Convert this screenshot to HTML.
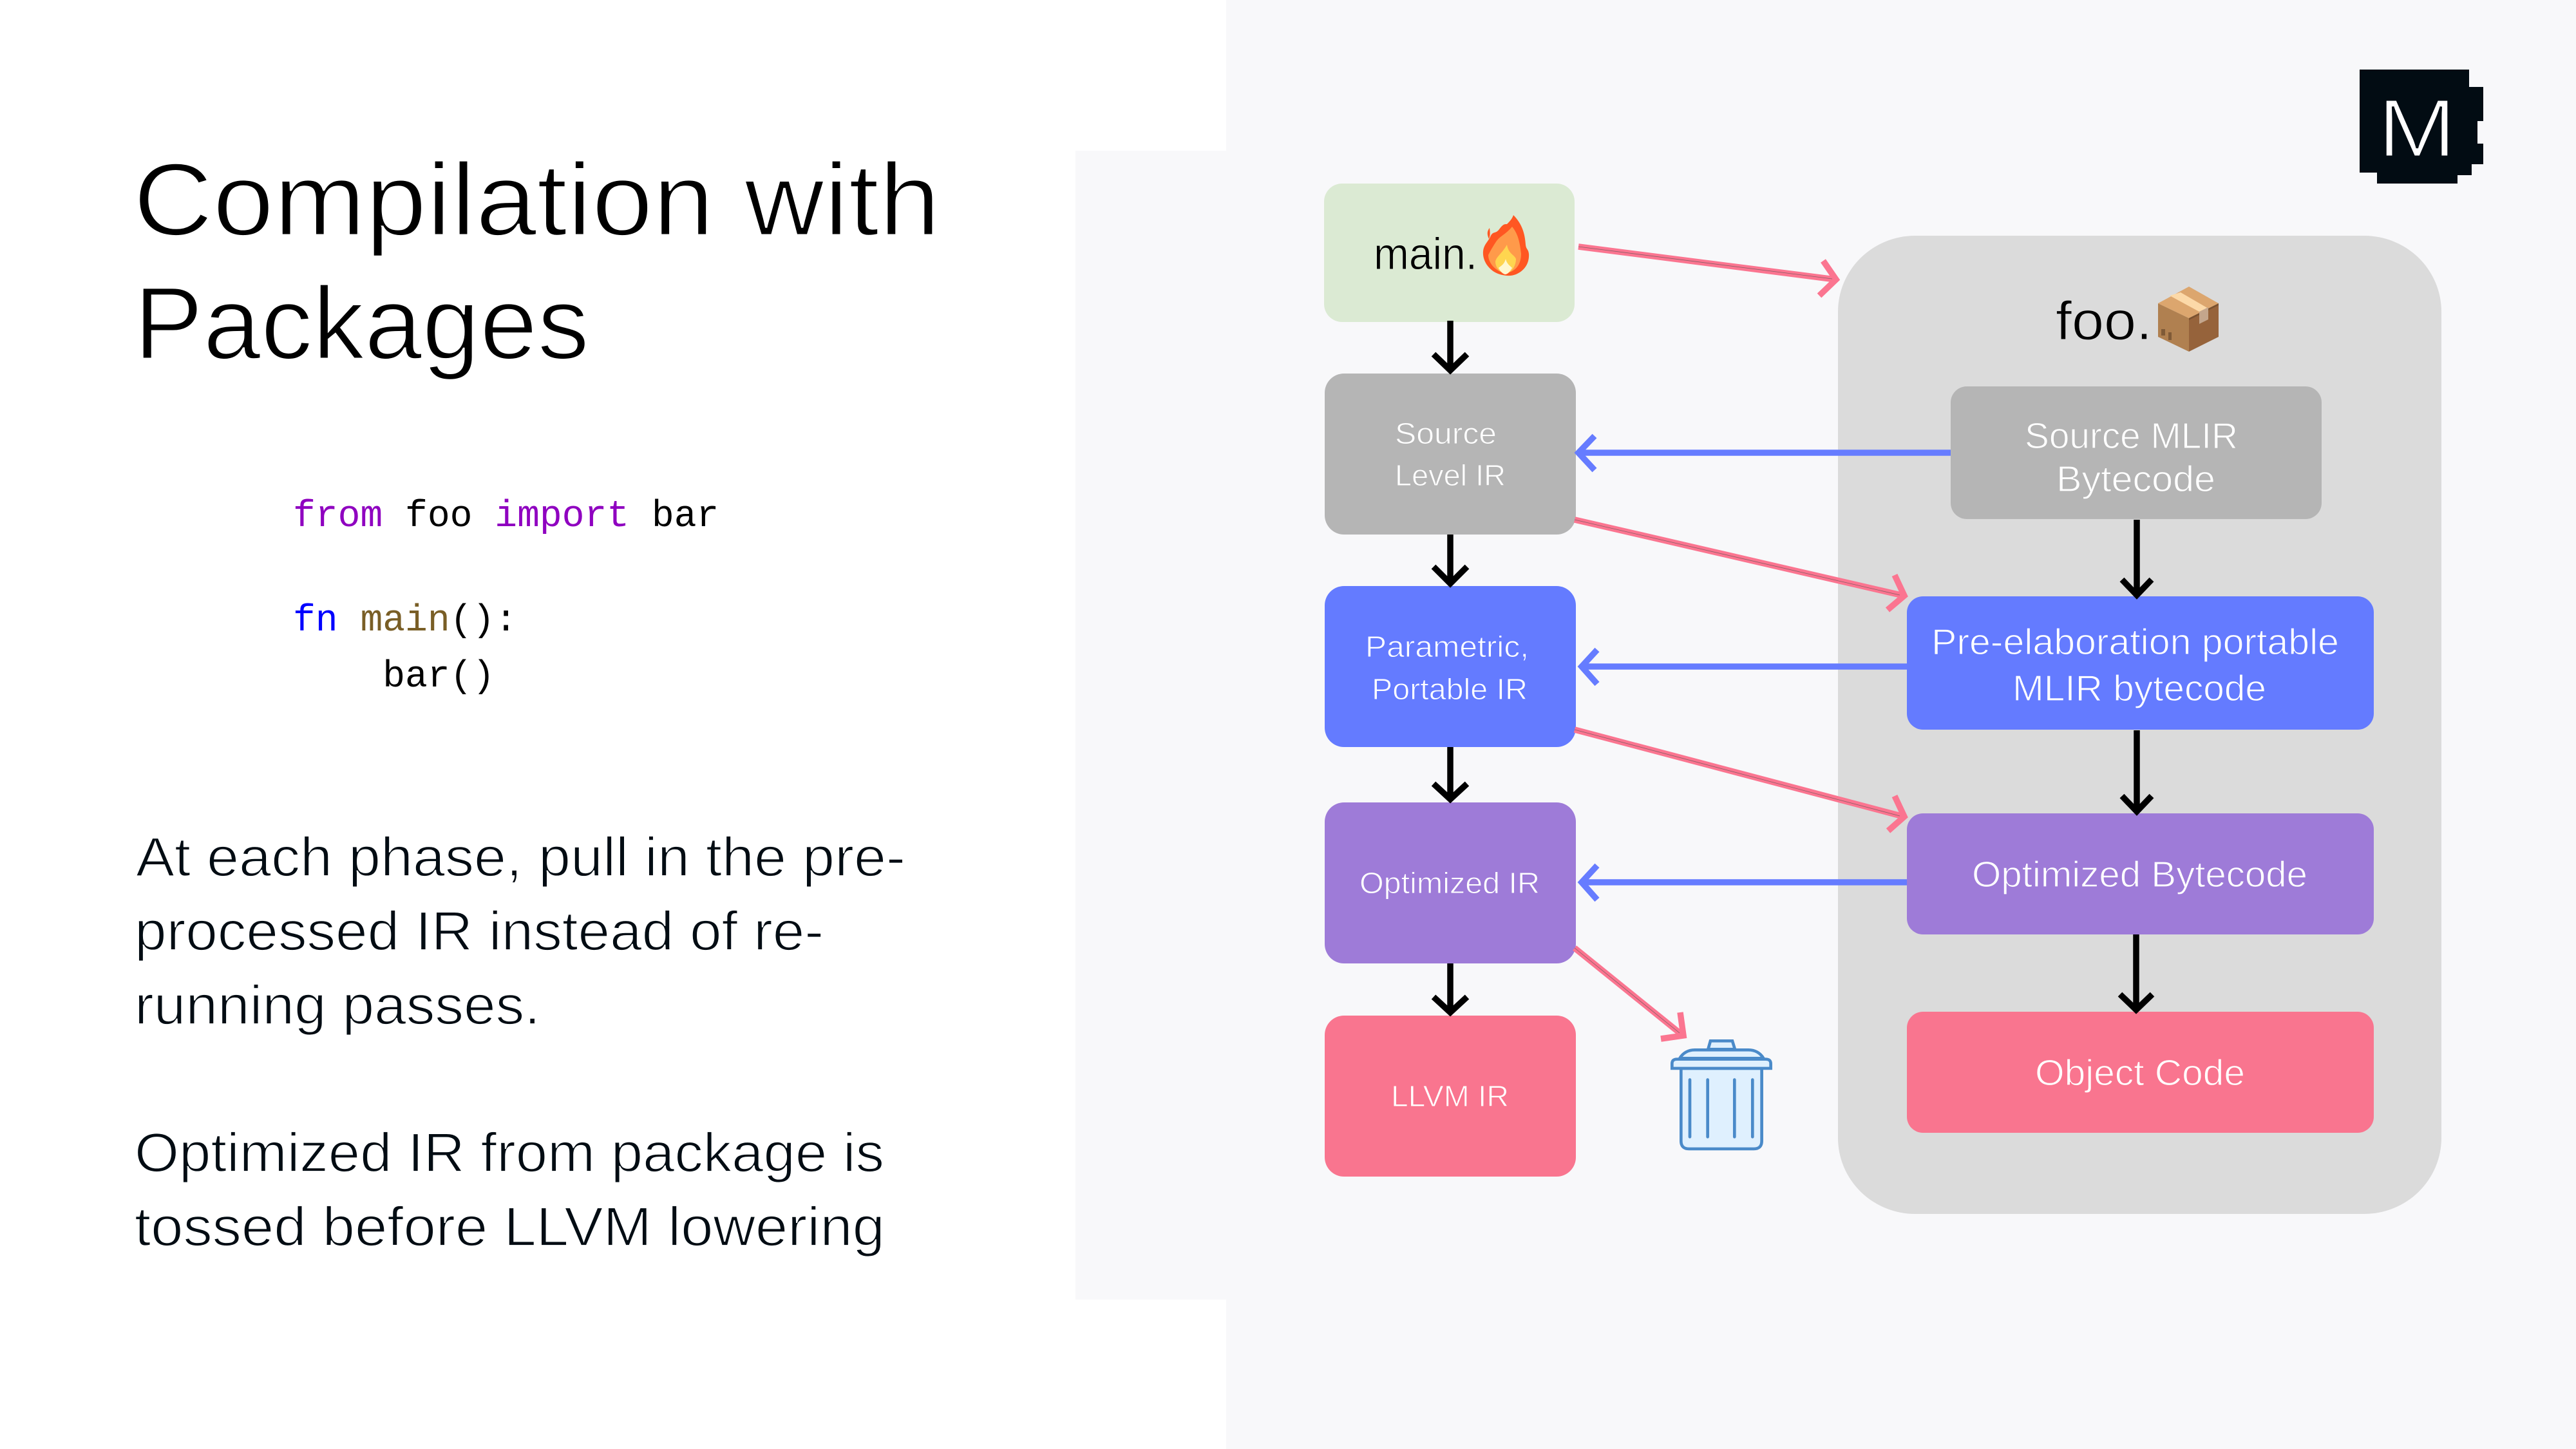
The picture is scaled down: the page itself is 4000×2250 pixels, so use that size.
<!DOCTYPE html>
<html>
<head>
<meta charset="utf-8">
<style>
html,body{margin:0;padding:0;background:#fff;width:4000px;height:2250px;overflow:hidden}
svg{display:block}
text{font-family:"Liberation Sans",sans-serif;white-space:pre}
.c{font-family:"Liberation Mono",monospace;font-size:58px}
</style>
</head>
<body>
<svg width="4000" height="2250" viewBox="0 0 4000 2250" xmlns="http://www.w3.org/2000/svg">
<rect width="4000" height="2250" fill="#ffffff"/>
<rect x="1904" y="0" width="2096" height="2250" fill="#f8f8fa"/>
<rect x="1670" y="234" width="240" height="1784" fill="#f8f8fa"/>

<!-- title and text -->
<g fill="#000" stroke="#fff" stroke-width="3" font-size="160">
<text x="207" y="365" textLength="1253" lengthAdjust="spacingAndGlyphs">Compilation with</text>
<text x="208" y="557" textLength="707" lengthAdjust="spacingAndGlyphs">Packages</text>
</g>
<g fill="#020c13" stroke="#fff" stroke-width="1.8" font-size="85">
<text x="211" y="1360" textLength="1195" lengthAdjust="spacingAndGlyphs">At each phase, pull in the pre-</text>
<text x="209" y="1475" textLength="1070" lengthAdjust="spacingAndGlyphs">processed IR instead of re-</text>
<text x="209" y="1590" textLength="630" lengthAdjust="spacingAndGlyphs">running passes.</text>
<text x="209" y="1819" textLength="1164" lengthAdjust="spacingAndGlyphs">Optimized IR from package is</text>
<text x="209" y="1934" textLength="1165" lengthAdjust="spacingAndGlyphs">tossed before LLVM lowering</text>
</g>

<!-- code -->
<text class="c" x="455" y="817" xml:space="preserve"><tspan fill="#8f00c0">from</tspan><tspan fill="#000"> foo </tspan><tspan fill="#8f00c0">import</tspan><tspan fill="#000"> bar</tspan></text>
<text class="c" x="455" y="979" xml:space="preserve"><tspan fill="#0000ff">fn</tspan><tspan fill="#000"> </tspan><tspan fill="#795e26">main</tspan><tspan fill="#000">():</tspan></text>
<text class="c" x="455" y="1066" xml:space="preserve" fill="#000">    bar()</text>

<!-- container -->
<rect x="2854" y="366" width="937" height="1519" rx="120" ry="118" fill="#dbdbdb"/>

<!-- logo -->
<polygon fill="#020c13" points="3664,108 3834,108 3834,135 3856,135 3856,188 3847,188 3847,223 3856,223 3856,255 3838,255 3838,272 3816,272 3816,285 3691,285 3691,268 3664,268"/>
<text x="3692" y="243" font-size="128" fill="#fff" stroke="#020c13" stroke-width="3" textLength="122" lengthAdjust="spacingAndGlyphs">M</text>

<!-- left boxes -->
<rect x="2056" y="285" width="389" height="215" rx="28" fill="#dbead3"/>
<rect x="2057" y="580" width="390" height="250" rx="30" fill="#b5b5b5"/>
<rect x="2057" y="910" width="390" height="250" rx="30" fill="#647bff"/>
<rect x="2057" y="1246" width="390" height="250" rx="30" fill="#9e7bd8"/>
<rect x="2057" y="1577" width="390" height="250" rx="30" fill="#f9758f"/>

<!-- right boxes -->
<rect x="3029" y="600" width="576" height="206" rx="25" fill="#b5b5b5"/>
<rect x="2961" y="926" width="725" height="207" rx="25" fill="#647bff"/>
<rect x="2961" y="1263" width="725" height="188" rx="25" fill="#9e7bd8"/>
<rect x="2961" y="1571" width="725" height="188" rx="25" fill="#f9758f"/>

<!-- black arrows -->
<g fill="none" stroke="#000" stroke-width="9.5" stroke-miterlimit="10">
<path d="M2252 498V576M2226 550L2252 575L2278 550" />
<path d="M2252 830V907M2226 880L2252 906L2278 880"/>
<path d="M2252 1160V1242M2226 1217L2252 1241L2278 1217"/>
<path d="M2252 1496V1573M2226 1548L2252 1572L2278 1548"/>
<path d="M3318 807V924M3295 900L3318 924L3341 900"/>
<path d="M3318 1134V1260M3295 1236L3318 1260L3341 1236"/>
<path d="M3317 1451V1568M3292 1544L3317 1568L3342 1544"/>
</g>

<!-- blue arrows -->
<g fill="none" stroke="#667cff" stroke-width="9.5" stroke-miterlimit="10">
<path d="M3029 703H2452M2476 677L2451 703L2476 730"/>
<path d="M2961 1035H2457M2480 1009L2456 1035L2480 1062"/>
<path d="M2961 1370H2457M2480 1344L2456 1370L2480 1397"/>
</g>

<!-- pink arrows -->
<g fill="none" stroke="#fb7590" stroke-width="9.5" stroke-miterlimit="10">
<path d="M2451 383L2850 434M2831 405L2851 434L2825 459"/>
<path d="M2445 807L2956 925M2942 893L2957 925L2931 947"/>
<path d="M2445 1133L2956 1268M2942 1236L2957 1268L2932 1290"/>
<path d="M2445 1472L2612 1607M2609 1572L2614 1608L2579 1613"/>
</g>
<g fill="none" stroke="#555" stroke-width="0.8" opacity="0.7">
<path d="M2451 383L2845 433"/>
<path d="M2445 807L2950 924"/>
<path d="M2445 1133L2950 1267"/>
<path d="M2445 1472L2608 1604"/>
</g>

<!-- trash -->
<g transform="translate(2400 1450) scale(0.3333)" stroke="#4a8ac9" stroke-width="14" fill="#dff0fe" stroke-linejoin="miter">
<path d="M631 627H1007V965Q1007 1002 970 1002H668Q631 1002 631 965Z"/>
<path d="M757 538L768 499H870L882 538Z"/>
<path d="M625 580C640 555 665 541 695 541H945C975 541 1000 555 1015 580Z"/>
<path d="M589 627V605Q589 584 612 584H1025Q1049 584 1049 605V627Z"/>
<path d="M672 680V946M755 680V946M880 680V946M964 680V946" fill="none" stroke-linecap="round"/>
</g>

<!-- flame emoji -->
<g transform="translate(2302 334)">
<path fill="#ff5722" d="M48 0C62 14 66 30 67 46C68 54 71 52 72 60C73 74 66 86 52 92C42 96 28 94 18 88C6 80 0 68 1 56C2 46 8 42 12 34C16 24 20 30 26 22C32 14 34 14 38 14C42 10 46 6 48 0Z"/>
<path fill="#ff5722" d="M10 37C6 28 8 24 11 20C12 28 12 32 10 37Z"/>
<path fill="#ff9a4a" d="M46 18C56 30 58 44 60 60C60 76 52 88 36 90C20 88 9 74 9 62C14 52 18 46 22 40C28 32 36 30 46 18Z"/>
<path fill="#ffd54f" d="M38 46C40 60 50 62 52 68C52 80 44 90 36 91C28 90 20 82 20 72C22 64 30 60 38 46Z"/>
<path fill="#fff8d0" d="M36 68C38 76 42 78 46 82C42 88 40 91 36 92C32 92 28 88 25 82C30 78 34 76 36 68Z"/>
</g>

<!-- package emoji -->
<polygon fill="#b08050" points="3351,471 3399,494 3399,546 3351,523"/>
<polygon fill="#96633b" points="3399,494 3445,471 3445,523 3399,546"/>
<polygon fill="#dca66e" points="3399,445 3445,471 3399,494 3351,471"/>
<polygon fill="#7a5230" points="3399,494 3445,471 3445,474 3399,497"/>
<polygon fill="#fcd9a8" points="3369,459 3386,454 3429,479 3415,484"/>
<polygon fill="#c4a68c" points="3415,484 3429,477 3429,496 3415,503"/>
<rect x="3356" y="511" width="6" height="10" fill="#6b4a2c" opacity=".7"/>
<rect x="3367" y="516" width="5" height="12" fill="#6b4a2c" opacity=".7"/>

<!-- labels -->
<g font-size="70" fill="#000" stroke="#dbead3" stroke-width="1">
<text x="2133" y="418" textLength="161" lengthAdjust="spacingAndGlyphs">main.</text>
</g>
<g font-size="84" fill="#000" stroke="#dbdbdb" stroke-width="1.2">
<text x="3192" y="527" textLength="150" lengthAdjust="spacingAndGlyphs">foo.</text>
</g>
<g font-size="46" fill="#fff">
<g stroke="#b5b5b5" stroke-width="1">
<text x="2166" y="689" textLength="158" lengthAdjust="spacingAndGlyphs">Source</text>
<text x="2166" y="754" textLength="172" lengthAdjust="spacingAndGlyphs">Level IR</text>
</g>
<g stroke="#647bff" stroke-width="1">
<text x="2120" y="1020" textLength="254" lengthAdjust="spacingAndGlyphs">Parametric,</text>
<text x="2130" y="1086" textLength="242" lengthAdjust="spacingAndGlyphs">Portable IR</text>
</g>
<g stroke="#9e7bd8" stroke-width="1">
<text x="2111" y="1387" textLength="280" lengthAdjust="spacingAndGlyphs">Optimized IR</text>
</g>
<g stroke="#f9758f" stroke-width="1">
<text x="2160" y="1718" textLength="183" lengthAdjust="spacingAndGlyphs">LLVM IR</text>
</g>
</g>
<g font-size="57" fill="#fff">
<g stroke="#b5b5b5" stroke-width="1.2">
<text x="3144" y="696" textLength="331" lengthAdjust="spacingAndGlyphs">Source MLIR</text>
<text x="3193" y="763" textLength="247" lengthAdjust="spacingAndGlyphs">Bytecode</text>
</g>
<g stroke="#647bff" stroke-width="1.2">
<text x="2999" y="1016" textLength="633" lengthAdjust="spacingAndGlyphs">Pre-elaboration portable</text>
<text x="3125" y="1088" textLength="394" lengthAdjust="spacingAndGlyphs">MLIR bytecode</text>
</g>
<g stroke="#9e7bd8" stroke-width="1.2">
<text x="3062" y="1377" textLength="521" lengthAdjust="spacingAndGlyphs">Optimized Bytecode</text>
</g>
<g stroke="#f9758f" stroke-width="1.2">
<text x="3160" y="1685" textLength="326" lengthAdjust="spacingAndGlyphs">Object Code</text>
</g>
</g>
</svg>
</body>
</html>
